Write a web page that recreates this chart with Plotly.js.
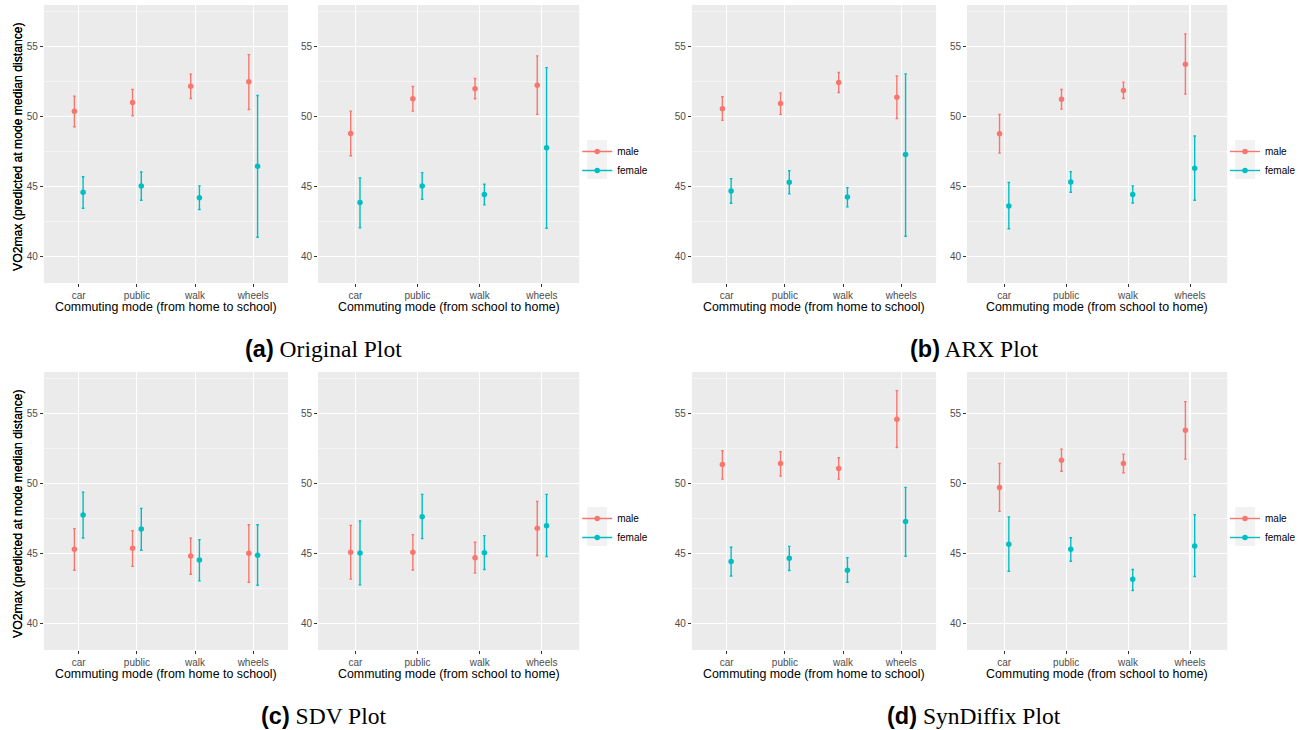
<!DOCTYPE html>
<html><head><meta charset="utf-8">
<script src="https://cdn.plot.ly/plotly-3.0.1.min.js"></script>
<style>html,body{margin:0;padding:0;background:#fff}#chart{width:1301px;height:730px}</style>
</head><body><div id="chart"></div>
<script>
// ---------- DATA ----------
const categories = ['car', 'public', 'walk', 'wheels'];
const sexes = ['male', 'female'];
const yTitle = 'VO2max (predicted at mode median distance)';
const xTitleHome = 'Commuting mode (from home to school)';
const xTitleSchool = 'Commuting mode (from school to home)';

// (a) Original
const origHomeMale     = [50.40, 51.02, 52.19, 52.50];
const origHomeMaleLo   = [49.29, 50.07, 51.31, 50.52];
const origHomeMaleHi   = [51.48, 51.95, 53.05, 54.45];
const origHomeFemale   = [44.60, 45.05, 44.21, 46.45];
const origHomeFemaleLo = [43.45, 44.02, 43.36, 41.38];
const origHomeFemaleHi = [45.71, 46.05, 45.05, 51.52];
const origSchoolMale     = [48.81, 51.29, 52.00, 52.26];
const origSchoolMaleLo   = [47.21, 50.40, 51.29, 50.17];
const origSchoolMaleHi   = [50.40, 52.17, 52.74, 54.36];
const origSchoolFemale   = [43.86, 45.05, 44.43, 47.79];
const origSchoolFemaleLo = [42.05, 44.10, 43.69, 42.02];
const origSchoolFemaleHi = [45.62, 46.00, 45.17, 53.52];

// (b) ARX
const arxHomeMale     = [50.57, 50.95, 52.45, 51.40];
const arxHomeMaleLo   = [49.74, 50.17, 51.74, 49.88];
const arxHomeMaleHi   = [51.43, 51.71, 53.17, 52.93];
const arxHomeFemale   = [44.69, 45.31, 44.26, 47.29];
const arxHomeFemaleLo = [43.81, 44.48, 43.55, 41.45];
const arxHomeFemaleHi = [45.57, 46.14, 44.93, 53.07];
const arxSchoolMale     = [48.79, 51.26, 51.88, 53.76];
const arxSchoolMaleLo   = [47.40, 50.55, 51.31, 51.62];
const arxSchoolMaleHi   = [50.17, 51.95, 52.48, 55.93];
const arxSchoolFemale   = [43.62, 45.33, 44.43, 46.31];
const arxSchoolFemaleLo = [41.98, 44.60, 43.83, 44.02];
const arxSchoolFemaleHi = [45.29, 46.07, 45.05, 48.62];

// (c) SDV
const sdvHomeMale     = [45.31, 45.38, 44.83, 45.02];
const sdvHomeMaleLo   = [43.81, 44.10, 43.52, 42.95];
const sdvHomeMaleHi   = [46.79, 46.64, 46.10, 47.07];
const sdvHomeFemale   = [47.76, 46.76, 44.55, 44.88];
const sdvHomeFemaleLo = [46.12, 45.24, 43.05, 42.74];
const sdvHomeFemaleHi = [49.40, 48.24, 46.00, 47.07];
const sdvSchoolMale     = [45.10, 45.10, 44.71, 46.81];
const sdvSchoolMaleLo   = [43.17, 43.83, 43.60, 44.86];
const sdvSchoolMaleHi   = [47.02, 46.36, 45.81, 48.74];
const sdvSchoolFemale   = [45.05, 47.64, 45.07, 47.00];
const sdvSchoolFemaleLo = [42.76, 46.07, 43.86, 44.79];
const sdvSchoolFemaleHi = [47.33, 49.24, 46.29, 49.24];

// (d) SynDiffix
const synHomeMale     = [51.38, 51.45, 51.10, 54.62];
const synHomeMaleLo   = [50.33, 50.55, 50.33, 52.60];
const synHomeMaleHi   = [52.36, 52.29, 51.86, 56.67];
const synHomeFemale   = [44.43, 44.67, 43.81, 47.29];
const synHomeFemaleLo = [43.40, 43.79, 42.95, 44.81];
const synHomeFemaleHi = [45.45, 45.52, 44.71, 49.74];
const synSchoolMale     = [49.74, 51.69, 51.45, 53.83];
const synSchoolMaleLo   = [48.02, 50.90, 50.79, 51.76];
const synSchoolMaleHi   = [51.45, 52.48, 52.12, 55.88];
const synSchoolFemale   = [45.67, 45.31, 43.17, 45.55];
const synSchoolFemaleLo = [43.74, 44.45, 42.36, 43.36];
const synSchoolFemaleHi = [47.62, 46.14, 43.86, 47.79];

const captions = [
  ['(a)', 'Original Plot'],
  ['(b)', 'ARX Plot'],
  ['(c)', 'SDV Plot'],
  ['(d)', 'SynDiffix Plot']
];

// panel order: a-home, a-school, b-home, b-school, c-home, c-school, d-home, d-school
const panels = [
  {male:[origHomeMale,origHomeMaleLo,origHomeMaleHi], female:[origHomeFemale,origHomeFemaleLo,origHomeFemaleHi], xt:xTitleHome},
  {male:[origSchoolMale,origSchoolMaleLo,origSchoolMaleHi], female:[origSchoolFemale,origSchoolFemaleLo,origSchoolFemaleHi], xt:xTitleSchool},
  {male:[arxHomeMale,arxHomeMaleLo,arxHomeMaleHi], female:[arxHomeFemale,arxHomeFemaleLo,arxHomeFemaleHi], xt:xTitleHome},
  {male:[arxSchoolMale,arxSchoolMaleLo,arxSchoolMaleHi], female:[arxSchoolFemale,arxSchoolFemaleLo,arxSchoolFemaleHi], xt:xTitleSchool},
  {male:[sdvHomeMale,sdvHomeMaleLo,sdvHomeMaleHi], female:[sdvHomeFemale,sdvHomeFemaleLo,sdvHomeFemaleHi], xt:xTitleHome},
  {male:[sdvSchoolMale,sdvSchoolMaleLo,sdvSchoolMaleHi], female:[sdvSchoolFemale,sdvSchoolFemaleLo,sdvSchoolFemaleHi], xt:xTitleSchool},
  {male:[synHomeMale,synHomeMaleLo,synHomeMaleHi], female:[synHomeFemale,synHomeFemaleLo,synHomeFemaleHi], xt:xTitleHome},
  {male:[synSchoolMale,synSchoolMaleLo,synSchoolMaleHi], female:[synSchoolFemale,synSchoolFemaleLo,synSchoolFemaleHi], xt:xTitleSchool}
];

// ---------- STYLE / LAYOUT ----------
const W = 1301, H = 730;
const px = p => p / W;
const py = p => 1 - p / H;
const colors = {male: '#F8766D', female: '#00BFC4'};
const dodge = {male: -0.075, female: 0.075};
const SANS = 'Liberation Sans, Arial, sans-serif';
const SERIF = 'Liberation Serif, Times New Roman, serif';

const colX = [[44, 289], [319, 581], [694, 939], [970, 1231]];
const rowY = [[5, 283], [372, 650]];

const data = [];
const layout = {
  width: W, height: H,
  margin: {l: 0, r: 0, t: 0, b: 0},
  paper_bgcolor: '#ffffff',
  plot_bgcolor: '#EBEBEB',
  font: {family: SANS, color: '#000'},
  showlegend: true,
  annotations: [],
  shapes: []
};

panels.forEach((p, k) => {
  const n = k + 1;
  const col = k % 4, row = Math.floor(k / 4);
  const xd = colX[col], yd = rowY[row];
  const xa = 'xaxis' + (n === 1 ? '' : n), ya = 'yaxis' + (n === 1 ? '' : n);
  const xr = 'x' + (n === 1 ? '' : n), yr = 'y' + (n === 1 ? '' : n);
  layout[xa] = {
    domain: [px(xd[0]), px(xd[1])], anchor: yr,
    range: [0.4, 4.6], tickmode: 'array',
    tickvals: categories.map((c, i) => i + 1), ticktext: categories,
    showgrid: true, gridcolor: '#ffffff', gridwidth: 1.1, zeroline: false, showline: false,
    ticks: 'outside', ticklen: 3, tickwidth: 1, tickcolor: '#333333',
    tickfont: {family: SANS, size: 10, color: '#4D4D4D'}, fixedrange: true
  };
  layout[ya] = {
    domain: [py(yd[1]), py(yd[0])], anchor: xr,
    range: [38.1, 58], tickmode: 'linear', tick0: 0, dtick: 5,
    showgrid: true, gridcolor: '#ffffff', gridwidth: 1.1, zeroline: false, showline: false,
    ticks: 'outside', ticklen: 3, tickwidth: 1, tickcolor: '#333333',
    tickfont: {family: SANS, size: 10, color: '#4D4D4D'}, fixedrange: true,
    minor: {dtick: 2.5, tick0: 0, showgrid: true, gridcolor: '#ffffff', gridwidth: 0.5, ticks: ''}
  };
  sexes.forEach(s => {
    const [v, lo, hi] = p[s];
    data.push({
      type: 'scatter', mode: 'markers', name: s, showlegend: false,
      xaxis: xr, yaxis: yr,
      x: categories.map((c, i) => i + 1 + dodge[s]),
      y: v,
      marker: {color: colors[s], size: 5.5},
      error_y: {type: 'data', symmetric: false,
        array: v.map((d, i) => hi[i] - d), arrayminus: v.map((d, i) => d - lo[i]),
        color: colors[s], thickness: 1.4, width: 1.3},
      hoverinfo: 'skip'
    });
  });
  // x title
  layout.annotations.push({
    xref: 'paper', yref: 'paper', x: px((xd[0] + xd[1]) / 2), y: py(row === 0 ? 307 : 674),
    text: p.xt, showarrow: false, xanchor: 'center', yanchor: 'middle',
    font: {family: SANS, size: 12.4, color: '#000'}
  });
  if (col % 2 === 0) {
    layout.annotations.push({
      xref: 'paper', yref: 'paper', x: px(18), y: py((yd[0] + yd[1]) / 2 + 2),
      text: yTitle, textangle: -90, showarrow: false, xanchor: 'center', yanchor: 'middle',
      font: {family: SANS, size: 12.2, color: '#000'}
    });
  } else {
    // legend for this figure
    const li = (k - 1) / 2; // 0..3
    const lname = li === 0 ? 'legend' : 'legend' + (li + 1);
    const keyX = xd[1] + 8;
    layout[lname] = {
      x: px(keyX - 10), xanchor: 'left', y: py(yd[0] + 132), yanchor: 'top',
      bgcolor: 'rgba(0,0,0,0)', font: {family: SANS, size: 10, color: '#000'},
      itemwidth: 30, tracegroupgap: 0
    };
    layout.shapes.push({
      type: 'rect', xref: 'paper', yref: 'paper', layer: 'below',
      x0: px(keyX), x1: px(keyX + 20), y0: py(yd[0] + 135), y1: py(yd[0] + 174),
      fillcolor: '#F2F2F2', line: {width: 0}
    });
    sexes.forEach(s => {
      data.push({
        type: 'scatter', mode: 'lines+markers', name: s, legend: lname, showlegend: true,
        xaxis: xr, yaxis: yr, x: [null], y: [null],
        marker: {color: colors[s], size: 5.5}, line: {color: colors[s], width: 1.4}
      });
    });
  }
});

// captions
captions.forEach((c, i) => {
  const cx = i % 2 === 0 ? 324 : 977;
  const cy = i < 2 ? 349 : 716;
  layout.annotations.push({
    xref: 'paper', yref: 'paper', x: px(cx), y: py(cy), showarrow: false,
    xanchor: 'center', yanchor: 'middle',
    text: '<span style="font-family:Liberation Sans, Arial, sans-serif;font-weight:bold">' + c[0] + '</span> ' + c[1],
    font: {family: SERIF, size: 23.5, color: '#000'}
  });
});

Plotly.newPlot('chart', data, layout, {staticPlot: true, displayModeBar: false});
</script></body></html>
